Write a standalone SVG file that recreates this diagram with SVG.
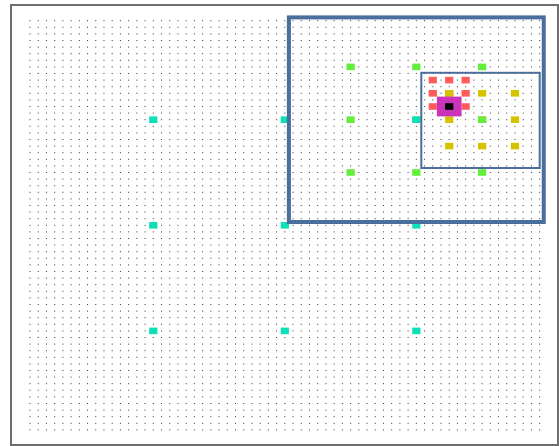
<svg xmlns="http://www.w3.org/2000/svg" width="559" height="446" viewBox="0 0 559 446">
<style>
.dots line{stroke:#333;stroke-width:1;stroke-dasharray:1 7.22}
.teal{fill:#0ddfb6}
.green{fill:#62ee3a}
.yellow{fill:#d6c300}
.red{fill:#ff5b5b}
.mag{fill:#cc33bb}
.blk{fill:#000}
.frame{fill:none;stroke:#6e6e6e;stroke-width:2}
.view{fill:none;stroke:#4a6e9b}
</style>
<rect width="559" height="446" fill="#fff"/>
<rect class="frame" x="11" y="5" width="547" height="440"/>
<g class="dots" id="grid">
<line x1="29.5" x2="540.5" y1="20.7" y2="20.7"/>
<line x1="29.5" x2="540.5" y1="27.3" y2="27.3"/>
<line x1="29.5" x2="540.5" y1="33.9" y2="33.9"/>
<line x1="29.5" x2="540.5" y1="40.5" y2="40.5"/>
<line x1="29.5" x2="540.5" y1="47.1" y2="47.1"/>
<line x1="29.5" x2="540.5" y1="53.7" y2="53.7"/>
<line x1="29.5" x2="540.5" y1="60.3" y2="60.3"/>
<line x1="29.5" x2="540.5" y1="66.9" y2="66.9"/>
<line x1="29.5" x2="540.5" y1="73.5" y2="73.5"/>
<line x1="29.5" x2="540.5" y1="80.1" y2="80.1"/>
<line x1="29.5" x2="540.5" y1="86.7" y2="86.7"/>
<line x1="29.5" x2="540.5" y1="93.3" y2="93.3"/>
<line x1="29.5" x2="540.5" y1="99.9" y2="99.9"/>
<line x1="29.5" x2="540.5" y1="106.5" y2="106.5"/>
<line x1="29.5" x2="540.5" y1="113.1" y2="113.1"/>
<line x1="29.5" x2="540.5" y1="119.7" y2="119.7"/>
<line x1="29.5" x2="540.5" y1="126.3" y2="126.3"/>
<line x1="29.5" x2="540.5" y1="132.9" y2="132.9"/>
<line x1="29.5" x2="540.5" y1="139.5" y2="139.5"/>
<line x1="29.5" x2="540.5" y1="146.1" y2="146.1"/>
<line x1="29.5" x2="540.5" y1="152.7" y2="152.7"/>
<line x1="29.5" x2="540.5" y1="159.3" y2="159.3"/>
<line x1="29.5" x2="540.5" y1="165.9" y2="165.9"/>
<line x1="29.5" x2="540.5" y1="172.5" y2="172.5"/>
<line x1="29.5" x2="540.5" y1="179.1" y2="179.1"/>
<line x1="29.5" x2="540.5" y1="185.7" y2="185.7"/>
<line x1="29.5" x2="540.5" y1="192.3" y2="192.3"/>
<line x1="29.5" x2="540.5" y1="198.9" y2="198.9"/>
<line x1="29.5" x2="540.5" y1="205.5" y2="205.5"/>
<line x1="29.5" x2="540.5" y1="212.1" y2="212.1"/>
<line x1="29.5" x2="540.5" y1="218.7" y2="218.7"/>
<line x1="29.5" x2="540.5" y1="225.3" y2="225.3"/>
<line x1="29.5" x2="540.5" y1="231.9" y2="231.9"/>
<line x1="29.5" x2="540.5" y1="238.5" y2="238.5"/>
<line x1="29.5" x2="540.5" y1="245.1" y2="245.1"/>
<line x1="29.5" x2="540.5" y1="251.7" y2="251.7"/>
<line x1="29.5" x2="540.5" y1="258.3" y2="258.3"/>
<line x1="29.5" x2="540.5" y1="264.9" y2="264.9"/>
<line x1="29.5" x2="540.5" y1="271.5" y2="271.5"/>
<line x1="29.5" x2="540.5" y1="278.1" y2="278.1"/>
<line x1="29.5" x2="540.5" y1="284.7" y2="284.7"/>
<line x1="29.5" x2="540.5" y1="291.3" y2="291.3"/>
<line x1="29.5" x2="540.5" y1="297.9" y2="297.9"/>
<line x1="29.5" x2="540.5" y1="304.5" y2="304.5"/>
<line x1="29.5" x2="540.5" y1="311.1" y2="311.1"/>
<line x1="29.5" x2="540.5" y1="317.7" y2="317.7"/>
<line x1="29.5" x2="540.5" y1="324.3" y2="324.3"/>
<line x1="29.5" x2="540.5" y1="330.9" y2="330.9"/>
<line x1="29.5" x2="540.5" y1="337.5" y2="337.5"/>
<line x1="29.5" x2="540.5" y1="344.1" y2="344.1"/>
<line x1="29.5" x2="540.5" y1="350.7" y2="350.7"/>
<line x1="29.5" x2="540.5" y1="357.3" y2="357.3"/>
<line x1="29.5" x2="540.5" y1="363.9" y2="363.9"/>
<line x1="29.5" x2="540.5" y1="370.5" y2="370.5"/>
<line x1="29.5" x2="540.5" y1="377.1" y2="377.1"/>
<line x1="29.5" x2="540.5" y1="383.7" y2="383.7"/>
<line x1="29.5" x2="540.5" y1="390.3" y2="390.3"/>
<line x1="29.5" x2="540.5" y1="396.9" y2="396.9"/>
<line x1="29.5" x2="540.5" y1="403.5" y2="403.5"/>
<line x1="29.5" x2="540.5" y1="410.1" y2="410.1"/>
<line x1="29.5" x2="540.5" y1="416.7" y2="416.7"/>
<line x1="29.5" x2="540.5" y1="423.3" y2="423.3"/>
<line x1="29.5" x2="540.5" y1="429.9" y2="429.9"/>
</g>
<g id="red-cells" class="red">
<rect x="428.67" y="76.8" width="8.22" height="6.6"/>
<rect x="445.11" y="76.8" width="8.22" height="6.6"/>
<rect x="461.55" y="76.8" width="8.22" height="6.6"/>
<rect x="428.67" y="90" width="8.22" height="6.6"/>
<rect x="445.11" y="90" width="8.22" height="6.6"/>
<rect x="461.55" y="90" width="8.22" height="6.6"/>
<rect x="428.67" y="103.2" width="8.22" height="6.6"/>
<rect x="445.11" y="103.2" width="8.22" height="6.6"/>
<rect x="461.55" y="103.2" width="8.22" height="6.6"/>
</g>
<g id="yellow-cells" class="yellow">
<rect x="445.11" y="90" width="8.22" height="6.6"/>
<rect x="477.99" y="90" width="8.22" height="6.6"/>
<rect x="510.87" y="90" width="8.22" height="6.6"/>
<rect x="445.11" y="116.4" width="8.22" height="6.6"/>
<rect x="477.99" y="116.4" width="8.22" height="6.6"/>
<rect x="510.87" y="116.4" width="8.22" height="6.6"/>
<rect x="445.11" y="142.8" width="8.22" height="6.6"/>
<rect x="477.99" y="142.8" width="8.22" height="6.6"/>
<rect x="510.87" y="142.8" width="8.22" height="6.6"/>
</g>
<g id="green-cells" class="green">
<rect x="346.47" y="63.6" width="8.22" height="6.6"/>
<rect x="412.23" y="63.6" width="8.22" height="6.6"/>
<rect x="477.99" y="63.6" width="8.22" height="6.6"/>
<rect x="346.47" y="116.4" width="8.22" height="6.6"/>
<rect x="412.23" y="116.4" width="8.22" height="6.6"/>
<rect x="477.99" y="116.4" width="8.22" height="6.6"/>
<rect x="346.47" y="169.2" width="8.22" height="6.6"/>
<rect x="412.23" y="169.2" width="8.22" height="6.6"/>
<rect x="477.99" y="169.2" width="8.22" height="6.6"/>
</g>
<g id="teal-cells" class="teal">
<rect x="149.19" y="116.4" width="8.22" height="6.6"/>
<rect x="280.71" y="116.4" width="8.22" height="6.6"/>
<rect x="412.23" y="116.4" width="8.22" height="6.6"/>
<rect x="149.19" y="222" width="8.22" height="6.6"/>
<rect x="280.71" y="222" width="8.22" height="6.6"/>
<rect x="412.23" y="222" width="8.22" height="6.6"/>
<rect x="149.19" y="327.6" width="8.22" height="6.6"/>
<rect x="280.71" y="327.6" width="8.22" height="6.6"/>
<rect x="412.23" y="327.6" width="8.22" height="6.6"/>
</g>
<g id="center">
<rect class="mag" x="436.89" y="96.6" width="24.66" height="19.8"/>
<rect class="blk" x="445.11" y="103.2" width="8.22" height="6.6"/>
</g>
<g id="views">
<rect class="view" x="288.9" y="17.4" width="254.85" height="204.6" stroke-width="4"/>
<rect class="view" x="421.3" y="72.8" width="118.4" height="95.2" stroke-width="2"/>
</g>
</svg>
